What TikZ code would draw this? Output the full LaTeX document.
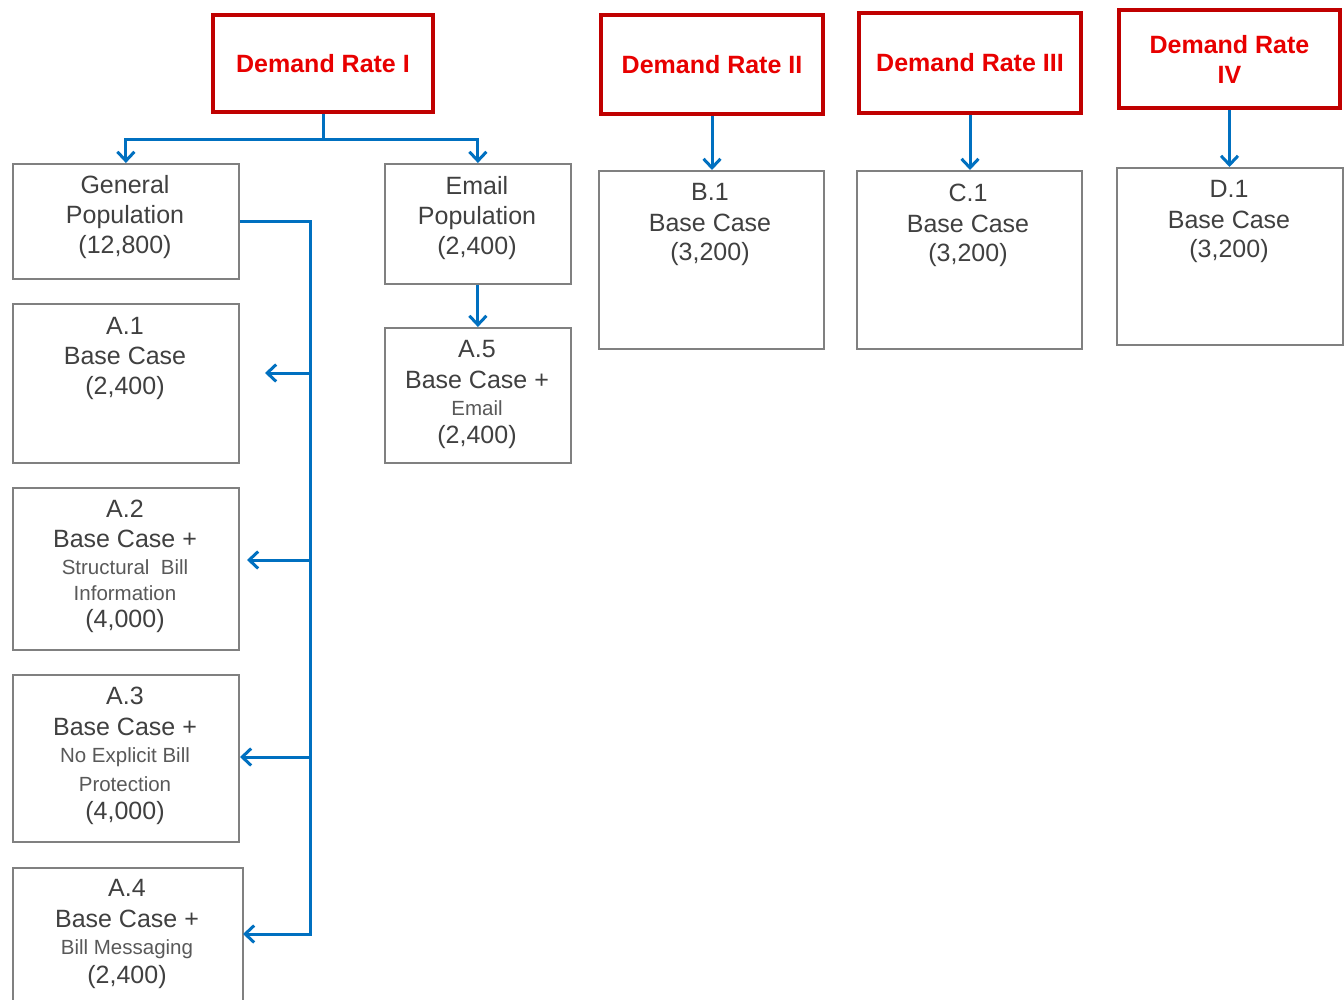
\documentclass[tikz,border=0pt]{standalone}
\usepackage{fontspec}
\setmainfont{Liberation Sans}
\usetikzlibrary{arrows.meta}
\definecolor{boxred}{RGB}{192,0,0}
\definecolor{redtext}{RGB}{232,0,0}
\definecolor{arrblue}{RGB}{0,112,192}
\definecolor{boxgray}{RGB}{128,128,128}
\definecolor{txtgray}{RGB}{64,64,64}
\definecolor{smgray}{RGB}{89,89,89}
\newcommand\fstr{\rule{0pt}{18pt}}
\newcommand\smtxt[1]{{\fontsize{20.5}{24}\selectfont\color{smgray}#1}}
\begin{document}
\begin{tikzpicture}[x=1pt,y=-1pt,
 rbox/.style={draw=boxred, line width=4pt, text=redtext, font=\bfseries\fontsize{25}{30}\selectfont, align=center, inner sep=0pt, anchor=north west},
 gbox/.style={draw=boxgray, line width=1.8pt, anchor=north west, inner sep=0pt},
 txt/.style={text=txtgray, font=\fontsize{25}{30}\selectfont, align=center, inner sep=0pt, anchor=north},
 arr/.style={draw=arrblue, line width=3pt, -{Straight Barb[length=9pt,width=17pt]}},
 bus/.style={draw=arrblue, line width=3pt}]
\useasboundingbox (0,0) rectangle (1344,1000);
\fill[white] (0,0) rectangle (1344,1000);

% red boxes
\node[rbox, minimum width=220pt, minimum height=97pt] (dr1) at (211,13) {Demand Rate I};
\node[rbox, minimum width=222pt, minimum height=99pt] (dr2) at (599,13) {Demand Rate II};
\node[rbox, minimum width=222pt, minimum height=100pt] (dr3) at (857,11) {Demand Rate III};
\node[rbox, minimum width=221pt, minimum height=98pt] (dr4) at (1117,8) {Demand Rate\\IV};

% gray boxes
\node[gbox, minimum width=226pt, minimum height=115pt] (gp) at (12,163) {};
\node[gbox, minimum width=186pt, minimum height=120pt] (ep) at (384,163) {};
\node[gbox, minimum width=226pt, minimum height=159pt] (a1) at (12,303) {};
\node[gbox, minimum width=186pt, minimum height=135pt] (a5) at (384,327) {};
\node[gbox, minimum width=226pt, minimum height=162pt] (a2) at (12,487) {};
\node[gbox, minimum width=226pt, minimum height=167pt] (a3) at (12,674) {};
\node[gbox, minimum width=230pt, minimum height=136pt] (a4) at (12,867) {};
\node[gbox, minimum width=225pt, minimum height=178pt] (b1) at (598,170) {};
\node[gbox, minimum width=225pt, minimum height=178pt] (c1) at (856,170) {};
\node[gbox, minimum width=226pt, minimum height=177pt] (d1) at (1116,167) {};

% texts
\node[txt] (gp-t) at (125,175) {\fstr General\\Population\\(12,800)};
\node[txt] (ep-t) at (477,176) {\fstr Email\\Population\\(2,400)};
\node[txt] (a1-t) at (125,316) {\fstr A.1\\Base Case\\(2,400)};
\node[txt] (a5-t) at (477,339) {\fstr A.5\\[1pt]Base Case +\\[-3pt]\smtxt{Email}\\[-2pt](2,400)};
\node[txt] (a2-t) at (125,499) {\fstr A.2\\Base Case +\\[-3pt]\smtxt{Structural\ \ Bill}\\[-4pt]\smtxt{Information}\\[-3pt](4,000)};
\node[txt] (a3-t) at (125,686) {\fstr A.3\\[1pt]Base Case +\\[-3pt]\smtxt{No Explicit Bill}\\[-1pt]\smtxt{Protection}\\[-2pt](4,000)};
\node[txt] (a4-t) at (127,878) {\fstr A.4\\[1pt]Base Case +\\[-3pt]\smtxt{Bill Messaging}\\[-1pt](2,400)};
\node[txt] (b1-t) at (710,182) {\fstr B.1\\[1pt]Base Case\\[-1pt](3,200)};
\node[txt] (c1-t) at (968,183) {\fstr C.1\\[1pt]Base Case\\[-1pt](3,200)};
\node[txt] (d1-t) at (1229,179) {\fstr D.1\\[1pt]Base Case\\[-1pt](3,200)};

% connectors
\draw[arr] (dr1.south) -- ++(0,26) -| (gp.north);
\draw[arr] (dr1.south) -- ++(0,26) -| (ep.north);
\draw[arr] (ep.south) -- (a5.north);
\draw[arr] (dr2.south) -- (dr2.south |- b1.north);
\draw[arr] (dr3.south) -- (dr3.south |- c1.north);
\draw[arr] (dr4.south) -- (dr4.south |- d1.north);

\coordinate (t1) at (265,373);
\coordinate (t2) at (247,560);
\coordinate (t3) at (240,757);
\coordinate (t4) at (243,934);
\coordinate (busx) at (310,220);
\draw[arr] (gp.east) -- (busx |- gp.east) -- (busx |- t4) -- (t4);
\draw[arr] (busx |- t1) -- (t1);
\draw[arr] (busx |- t2) -- (t2);
\draw[arr] (busx |- t3) -- (t3);
\end{tikzpicture}
\end{document}
